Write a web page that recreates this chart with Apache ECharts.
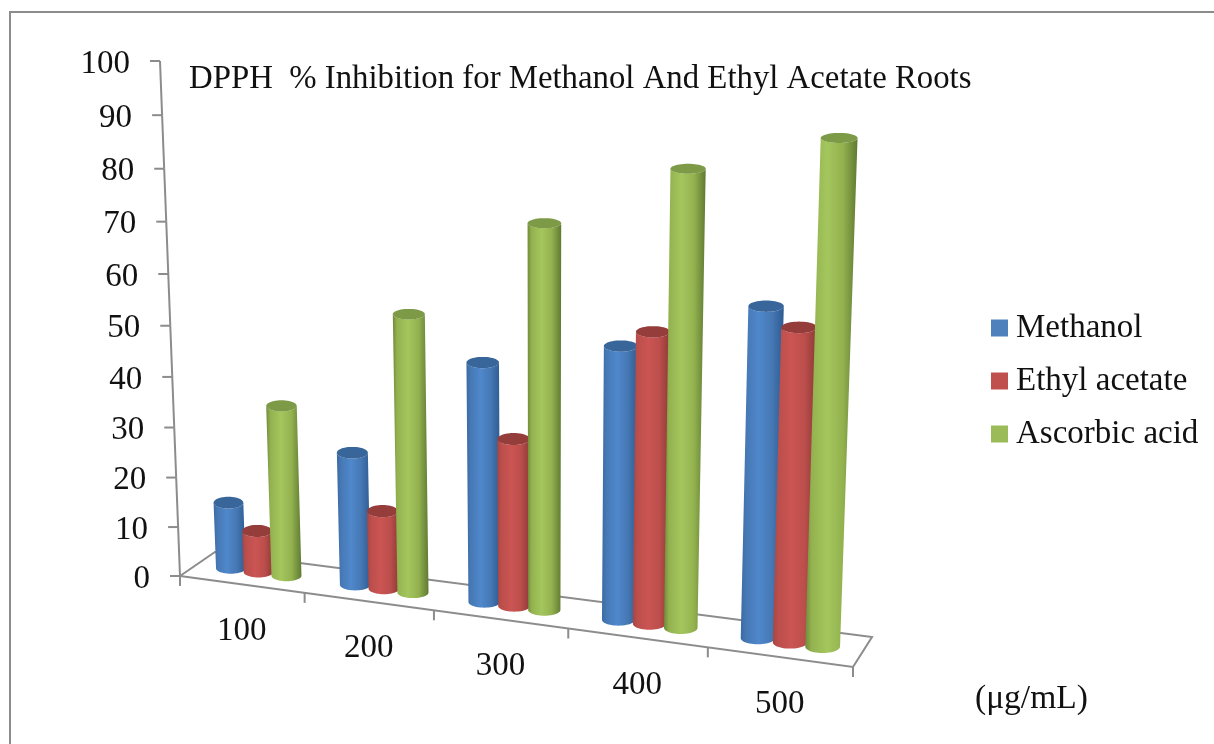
<!DOCTYPE html>
<html><head><meta charset="utf-8">
<style>html,body{margin:0;padding:0;background:#fff}#c{width:1214px;height:744px}</style>
<script src="https://cdn.jsdelivr.net/npm/echarts@6/dist/echarts.min.js"></script>
</head><body><div id="c"></div>
<script>
const categories = ['100','200','300','400','500'];
const yTicks = [0,10,20,30,40,50,60,70,80,90,100];
const methanol = [13.6,26.7,47,52.6,62.3];
const ethyl = [8.5,15.7,32.9,55.8,59];
const ascorbic = [34.5,54.9,74.1,85.8,92.9];
const titleText = 'DPPH  % Inhibition for Methanol And Ethyl Acetate Roots';
const unitText = '(μg/mL)';

const FONT = '"Liberation Serif", serif';
const AXIS = '#8c8c8c';
function homography(q){ // unit square -> quad [p00,p10,p11,p01]
  const [a,b,c,d]=q;
  const dx1=b[0]-c[0],dx2=d[0]-c[0],sx=a[0]-b[0]+c[0]-d[0];
  const dy1=b[1]-c[1],dy2=d[1]-c[1],sy=a[1]-b[1]+c[1]-d[1];
  const den=dx1*dy2-dx2*dy1;
  const g=(sx*dy2-dx2*sy)/den,h=(dx1*sy-sx*dy1)/den;
  const A=b[0]-a[0]+g*b[0],B=d[0]-a[0]+h*d[0],D=b[1]-a[1]+g*b[1],E=d[1]-a[1]+h*d[1];
  return (u,t)=>{const w=g*u+h*t+1;return [(A*u+B*t+a[0])/w,(D*u+E*t+a[1])/w];};
}
// perspective planes: the front edge of the floor and the plane through the cylinder axes
const front = homography([[180,576],[853,667],[874,103],[160,61]]);
const mid = homography([[197.5,564],[862.5,652],[883,99],[177.5,59]]);
function norm(api,cs,cat,val){ // goes through the chart's own scales
  const p=api.coord([cat,val]);
  return [(p[0]-cs.x)/cs.width,(cs.y+cs.height-p[1])/cs.height];
}
const BARW=0.232/5;
const OFFSET=0.226;
function cylinder(offset,cols){
  return function(params,api){
    const cs=params.coordSys, cat=api.value(0), val=api.value(1);
    const b=norm(api,cs,cat,0), t=norm(api,cs,cat,val);
    const u=b[0]+offset/5;
    const cb=mid(u,0), ct=mid(u,t[1]);
    const wb=mid(u+BARW/2,0)[0]-mid(u-BARW/2,0)[0];
    const wt=mid(u+BARW/2,t[1])[0]-mid(u-BARW/2,t[1])[0];
    const rb=wb/2+0.6, rt=wt/2+0.6;
    const ryb=rb*0.36, ryt=rt*(0.42-0.16*t[1]);
    const body=[],top=[];
    body.push([ct[0]-rt,ct[1]]);
    for(let i=0;i<=24;i++){const a=Math.PI-Math.PI*i/24;body.push([cb[0]+rb*Math.cos(a),cb[1]+ryb*Math.sin(a)]);}
    body.push([ct[0]+rt,ct[1]]);
    for(let i=0;i<=12;i++){const a=Math.PI*i/12;body.push([ct[0]+rt*Math.cos(a),ct[1]+ryt*Math.sin(a)]);}
    for(let i=0;i<48;i++){const a=2*Math.PI*i/48;top.push([ct[0]+rt*Math.cos(a),ct[1]+ryt*Math.sin(a)]);}
    const grad=new echarts.graphic.LinearGradient(0,0,1,0,[
      {offset:0,color:cols.edgeL},{offset:0.12,color:cols.side},{offset:0.42,color:cols.light},
      {offset:0.72,color:cols.side},{offset:1,color:cols.edgeR}]);
    return {type:'group',children:[
      {type:'polygon',shape:{points:body},style:{fill:grad}},
      {type:'polygon',shape:{points:top},style:{fill:cols.top}}
    ]};
  };
}
function floorItem(params,api){
  const pts=[front(0,0),front(1,0),[2*mid(1,0)[0]-front(1,0)[0],2*mid(1,0)[1]-front(1,0)[1]],
             [2*mid(0,0)[0]-front(0,0)[0],2*mid(0,0)[1]-front(0,0)[1]],front(0,0)];
  return {type:'polyline',shape:{points:pts},style:{stroke:AXIS,lineWidth:2,fill:'none'}};
}
function yTickItem(params,api){
  const cs=params.coordSys, v=api.value(0);
  const n=norm(api,cs,0,v), p=front(0,n[1]);
  const kids=[{type:'line',shape:{x1:p[0]-10,y1:p[1],x2:p[0],y2:p[1]},style:{stroke:AXIS,lineWidth:2}},
    {type:'text',style:{text:yTicks[params.dataIndex]+'',x:p[0]-30,y:p[1]+3,font:'33px '+FONT,fill:'#111',align:'right',verticalAlign:'middle'}}];
  if(params.dataIndex<yTicks.length-1){
    const nx=norm(api,cs,0,yTicks[params.dataIndex+1]), q=front(0,nx[1]);
    kids.push({type:'line',shape:{x1:p[0],y1:p[1],x2:q[0],y2:q[1]},style:{stroke:AXIS,lineWidth:2}});
  }
  return {type:'group',children:kids};
}
function xTickItem(params,api){
  const cs=params.coordSys, i=api.value(0);
  const n=norm(api,cs,i,0), half=0.5/categories.length;
  const tickAt=u=>{const p=front(u,0);return {type:'line',shape:{x1:p[0],y1:p[1],x2:p[0],y2:p[1]+10},style:{stroke:AXIS,lineWidth:2}};};
  const c=front(n[0],0);
  const kids=[tickAt(n[0]-half),{type:'text',style:{text:categories[i],x:c[0],y:c[1]+47,font:'33px '+FONT,fill:'#111',align:'center',verticalAlign:'middle'}}];
  if(i===categories.length-1) kids.push(tickAt(n[0]+half));
  return {type:'group',children:kids};
}
const chart=echarts.init(document.getElementById('c'));
const cols={
 m:{edgeL:'#3a6aa3',side:'#4678b4',light:'#4f88cc',edgeR:'#2e5c92',top:'#39669a'},
 e:{edgeL:'#a84543',side:'#bb4e4b',light:'#cb5553',edgeR:'#8c3937',top:'#953d3b'},
 a:{edgeL:'#6f8a3b',side:'#93b24f',light:'#a4c65d',edgeR:'#5f7a32',top:'#7d9a47'}
};
const CLR={m:'#4f81bd',e:'#c0504d',a:'#9bbb59'};
chart.setOption({
  animation:false,
  backgroundColor:'#fff',
  grid:{left:0,right:0,top:0,bottom:0,containLabel:false},
  xAxis:{type:'category',data:categories,show:false},
  yAxis:{type:'value',min:0,max:100,interval:10,show:false},
  title:[
    {text:titleText,left:189,top:63,textStyle:{fontFamily:FONT,fontSize:32.8,fontWeight:'normal',color:'#111'},padding:0},
    {text:unitText,left:975,top:682,textStyle:{fontFamily:FONT,fontSize:33.5,fontWeight:'normal',color:'#111'},padding:0}
  ],
  legend:{orient:'vertical',left:991,top:311,itemWidth:17,itemHeight:17,itemGap:19,padding:0,icon:'rect',
    data:['Methanol','Ethyl acetate','Ascorbic acid'],selectedMode:false,
    textStyle:{fontFamily:FONT,fontSize:33,lineHeight:32,color:'#111',padding:[2,0,0,3]}},
  graphic:[{type:'rect',shape:{x:10,y:12,width:1400,height:1000},style:{fill:'none',stroke:AXIS,lineWidth:2},silent:true}],
  series:[
    {type:'custom',name:'floor',silent:true,clip:false,z:1,renderItem:floorItem,data:[[0]],encode:{x:0}},
    {type:'custom',name:'yticks',silent:true,clip:false,z:1,renderItem:yTickItem,data:yTicks.map(v=>[v]),encode:{y:0}},
    {type:'custom',name:'xticks',silent:true,clip:false,z:1,renderItem:xTickItem,data:categories.map((c,i)=>[i]),encode:{x:0}},
    {type:'custom',name:'Methanol',clip:false,z:2,itemStyle:{color:CLR.m},renderItem:cylinder(-OFFSET,cols.m),data:methanol.map((v,i)=>[i,v]),encode:{x:0,y:1}},
    {type:'custom',name:'Ethyl acetate',clip:false,z:3,itemStyle:{color:CLR.e},renderItem:cylinder(0,cols.e),data:ethyl.map((v,i)=>[i,v]),encode:{x:0,y:1}},
    {type:'custom',name:'Ascorbic acid',clip:false,z:4,itemStyle:{color:CLR.a},renderItem:cylinder(OFFSET,cols.a),data:ascorbic.map((v,i)=>[i,v]),encode:{x:0,y:1}}
  ]
});
</script></body></html>
